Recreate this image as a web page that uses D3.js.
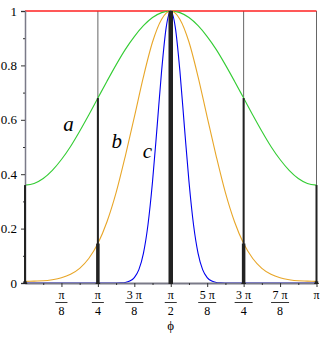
<!DOCTYPE html>
<html>
<head>
<meta charset="utf-8">
<script src="https://cdn.jsdelivr.net/npm/d3@7"></script>
<style>
  body { margin: 0; background: #fff; }
  svg text { font-family: "Liberation Serif", "Times New Roman", serif !important; fill: #000; }
</style>
</head>
<body>
<section id="grafico"></section>
<script>
const PI = Math.PI;
const SERIF = "Liberation Serif, Times New Roman, serif";

// sampling grid for curves a and b (steps of pi/32)
const phiAB = d3.range(33).map(k => k * PI / 32);
const aVals = [0.360,0.366,0.384,0.414,0.454,0.502,0.558,0.618,0.680,0.742,0.802,0.858,0.906,0.946,0.976,0.994,1.000,
               0.994,0.976,0.946,0.906,0.858,0.802,0.742,0.680,0.618,0.558,0.502,0.454,0.414,0.384,0.366,0.360];
const bVals = [0.006,0.007,0.008,0.012,0.019,0.032,0.054,0.090,0.145,0.225,0.332,0.465,0.610,0.758,0.886,0.970,1.000,
               0.970,0.886,0.758,0.610,0.465,0.332,0.225,0.145,0.090,0.054,0.032,0.019,0.012,0.008,0.007,0.006];

// curve c, finer grid (steps of pi/64)
const phiC = d3.range(65).map(k => k * PI / 64);
const cVals = [0,0,0,0,0,0,0,0,0,0,0,0,0,0,0,0,0,0,0,0,
               0.0002,0.0007,0.002,0.007,0.020,0.049,0.109,0.214,0.373,0.574,0.781,0.940,1.000,
               0.940,0.781,0.574,0.373,0.214,0.109,0.049,0.020,0.007,0.002,0.0007,0.0002,
               0,0,0,0,0,0,0,0,0,0,0,0,0,0,0,0,0,0,0,0];

// bars
const barPhi = [0, PI/4, PI/2, 3*PI/4, PI];
const barA = [0.36, 0.68, 1, 0.68, 0.36];
const barB = [0.006, 0.145, 1, 0.145, 0.006];
const barC = [0, 0, 1, 0, 0];

// thin vertical guides
const guidePhi = [PI/4, PI/2, 3*PI/4, PI];

// ticks
const yTicks = [0, 0.2, 0.4, 0.6, 0.8, 1];
const yMinor = [0.1, 0.3, 0.5, 0.7, 0.9];
const xTicks = [1,2,3,4,5,6,7,8].map(k => k * PI / 8);
const xNum = ["π", "π", "3 π", "π", "5 π", "3 π", "7 π", "π"];
const xDen = ["8", "4", "8", "2", "8", "4", "8", ""];
const xMinor = [1,3,5,7,9,11,13,15].map(k => k * PI / 16);

const curveLabels = [
  {t: "a", phi: 0.47, v: 0.56},
  {t: "b", phi: 0.99, v: 0.495},
  {t: "c", phi: 1.32, v: 0.46}
];

const width = 327;
const height = 337;
const mLeft = 25, mRight = 316.5, mTop = 11, mBottom = 283;

const svg = d3.select("section#grafico")
  .append("svg")
  .attr("width", width)
  .attr("height", height)
  .attr("font-family", SERIF);

const x = d3.scaleLinear().domain([0, PI]).range([mLeft, mRight]);
const y = d3.scaleLinear().domain([0, 1]).range([mBottom, mTop]);

// guides
svg.selectAll("line.guide")
  .data(guidePhi)
  .enter().append("line")
  .attr("x1", d => x(d)).attr("x2", d => x(d))
  .attr("y1", y(0)).attr("y2", y(1))
  .attr("stroke", "#666").attr("stroke-width", 1);

// red line y=1
svg.append("line")
  .attr("x1", x(0)).attr("x2", x(PI))
  .attr("y1", y(1)).attr("y2", y(1))
  .attr("stroke", "#ff2020").attr("stroke-width", 1.3);

const line = d3.line().curve(d3.curveMonotoneX);

svg.append("path")
  .attr("d", line(phiAB.map((p, i) => [x(p), y(aVals[i])])))
  .attr("fill", "none").attr("stroke", "#33cc33").attr("stroke-width", 1.1);

svg.append("path")
  .attr("d", line(phiAB.map((p, i) => [x(p), y(bVals[i])])))
  .attr("fill", "none").attr("stroke", "#e8a628").attr("stroke-width", 1.1);

svg.append("path")
  .attr("d", line(phiC.map((p, i) => [x(p), y(cVals[i])])))
  .attr("fill", "none").attr("stroke", "#0000ee").attr("stroke-width", 1.1);

// axes
const yAxis = svg.append("g")
  .attr("transform", `translate(${mLeft},0)`)
  .call(d3.axisLeft(y).tickValues(yTicks).tickSize(4).tickFormat(d => d === 0 || d === 1 ? d : d.toFixed(1)));
svg.append("g")
  .attr("transform", `translate(${mLeft},0)`)
  .call(d3.axisLeft(y).tickValues(yMinor).tickSize(2).tickFormat(""))
  .select(".domain").remove();
yAxis.attr("font-family", SERIF).attr("font-size", 13);
yAxis.selectAll("text").attr("dx", "-1");

const xAxis = svg.append("g")
  .attr("transform", `translate(0,${mBottom})`)
  .call(d3.axisBottom(x).tickValues(xTicks).tickSize(4).tickSizeOuter(0).tickFormat(""));
svg.append("g")
  .attr("transform", `translate(0,${mBottom})`)
  .call(d3.axisBottom(x).tickValues(xMinor).tickSize(2).tickFormat(""))
  .select(".domain").remove();

svg.selectAll(".domain").attr("stroke", "#7a7a88").attr("stroke-width", 1.5);
xAxis.select(".domain").attr("stroke-width", 2);
svg.selectAll(".tick line").attr("stroke", "#333");

// fraction labels
const fr = svg.append("g").attr("font-family", SERIF).selectAll("g")
  .data(xTicks)
  .enter().append("g")
  .attr("transform", d => `translate(${x(d)},0)`);
fr.append("text")
  .attr("y", 299).attr("text-anchor", "middle").attr("font-size", 12)
  .text((d, i) => xNum[i]);
fr.filter((d, i) => xDen[i] !== "").append("line")
  .attr("x1", (d, i) => xNum[i].length > 1 ? -9 : -6)
  .attr("x2", (d, i) => xNum[i].length > 1 ? 9 : 6)
  .attr("y1", 302.5).attr("y2", 302.5)
  .attr("stroke", "#000").attr("stroke-width", 0.8);
fr.append("text")
  .attr("y", 315).attr("text-anchor", "middle").attr("font-size", 12)
  .text((d, i) => xDen[i]);

svg.append("text")
  .attr("x", x(PI/2)).attr("y", 330)
  .attr("text-anchor", "middle").attr("font-size", 13)
  .attr("font-family", SERIF)
  .text("ϕ");

// bars
const bars = [[barA, 2], [barB, 3.5], [barC, 4.5]];
bars.forEach(([vals, w]) => {
  svg.append("g").selectAll("rect")
    .data(barPhi)
    .enter().append("rect")
    .attr("x", d => x(d) - w / 2)
    .attr("width", w)
    .attr("y", (d, i) => y(vals[i]))
    .attr("height", (d, i) => y(0) - y(vals[i]) + 1)
    .attr("fill", "#222");
});

// curve labels
svg.selectAll("text.cl")
  .data(curveLabels)
  .enter().append("text")
  .attr("x", d => x(d.phi)).attr("y", d => y(d.v))
  .attr("font-size", 21).attr("font-style", "italic")
  .attr("font-family", SERIF)
  .attr("text-anchor", "middle")
  .text(d => d.t);
</script>
</body>
</html>
